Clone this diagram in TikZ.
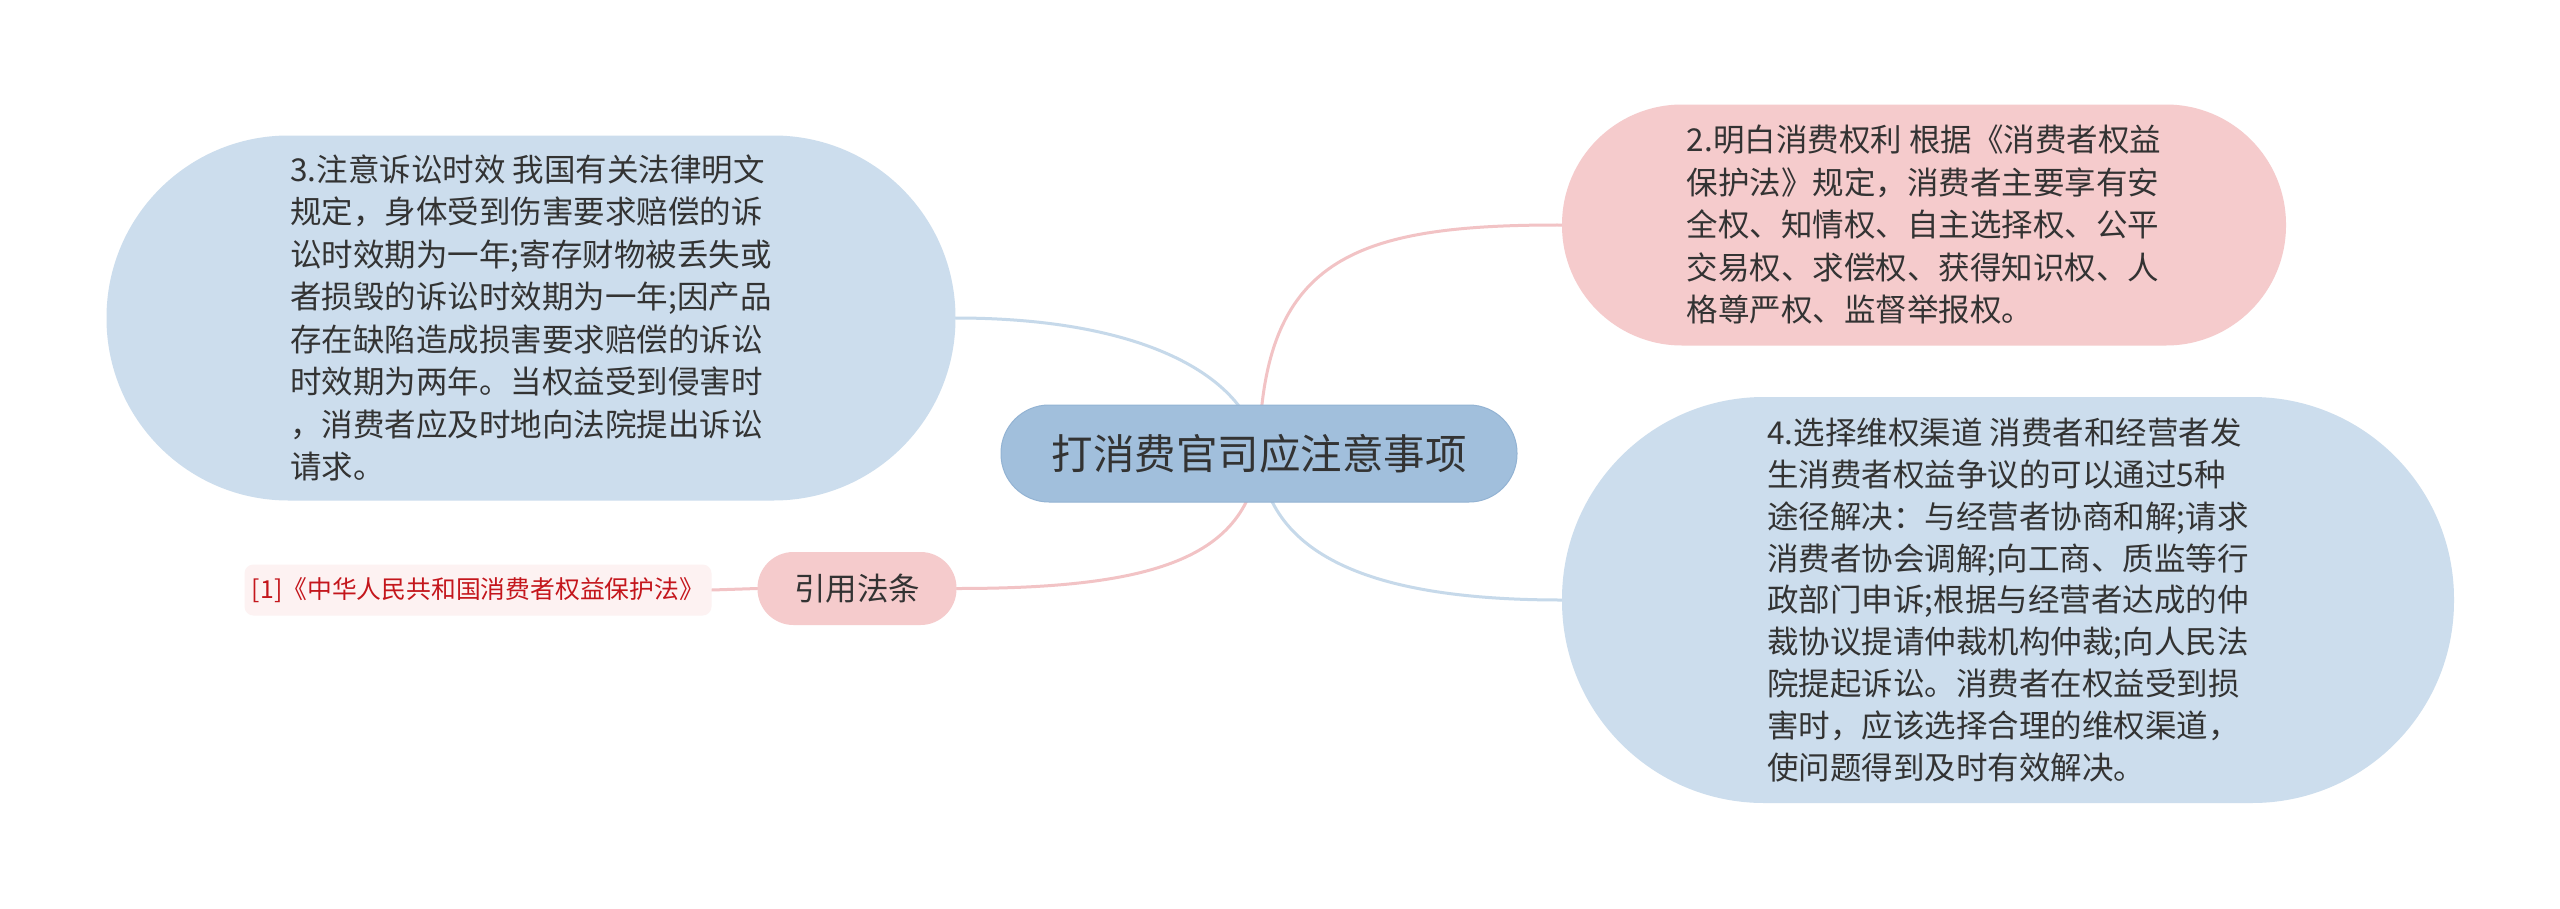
\documentclass[tikz,border=0pt]{standalone}
\usepackage{fontspec}
\setmainfont{Noto Sans CJK SC}
\pgfdeclarelayer{bg}
\pgfdeclarelayer{canvas}
\pgfsetlayers{canvas,bg,main}
\definecolor{txt}{HTML}{333333}
\definecolor{rootblue}{HTML}{A1BFDC}
\definecolor{rootedge}{HTML}{93B3D3}
\definecolor{nodeblue}{HTML}{CCDDED}
\definecolor{nodepink}{HTML}{F5CBCC}
\definecolor{lineblue}{HTML}{C6D9EA}
\definecolor{linepink}{HTML}{F2C3C5}
\definecolor{citefill}{HTML}{FDF2F2}
\definecolor{citered}{HTML}{C4161C}
\tikzset{
  box/.style={inner sep=0pt, align=left, text=txt, font=\fontsize{31.5}{42.5}\selectfont},
  conn/.style={line width=3pt, line cap=round},
}
\begin{document}
\begin{tikzpicture}[x=1pt,y=-1pt]
\useasboundingbox (0,0) rectangle (2560,908);
\begin{pgfonlayer}{canvas}
\fill[white] (0,0) rectangle (2560,908);
\end{pgfonlayer}

\node[fill=rootblue, draw=rootedge, line width=1pt, rounded corners=48pt, minimum width=516pt, minimum height=97pt, inner sep=0pt, text=txt, font=\fontsize{41.5}{50}\selectfont] (root) at (1259,453.5) {打消费官司应注意事项};

\node[box, fill=nodeblue, rounded corners=182pt, minimum width=849pt, minimum height=365pt] (n3) at (531,318) {3.注意诉讼时效 我国有关法律明文\\规定，身体受到伤害要求赔偿的诉\\讼时效期为一年;寄存财物被丢失或\\者损毁的诉讼时效期为一年;因产品\\存在缺陷造成损害要求赔偿的诉讼\\时效期为两年。当权益受到侵害时\\，消费者应及时地向法院提出诉讼\\请求。};

\node[box, fill=nodepink, rounded corners=120pt, minimum width=724pt, minimum height=241pt] (n2) at (1924,225) {2.明白消费权利 根据《消费者权益\\保护法》规定，消费者主要享有安\\全权、知情权、自主选择权、公平\\交易权、求偿权、获得知识权、人\\格尊严权、监督举报权。};

\node[box, fill=nodeblue, rounded corners=202pt, minimum width=892pt, minimum height=406pt, font=\fontsize{31.5}{41.8}\selectfont] (n4) at (2008,600) {4.选择维权渠道 消费者和经营者发\\生消费者权益争议的可以通过5种\\途径解决：与经营者协商和解;请求\\消费者协会调解;向工商、质监等行\\政部门申诉;根据与经营者达成的仲\\裁协议提请仲裁机构仲裁;向人民法\\院提起诉讼。消费者在权益受到损\\害时，应该选择合理的维权渠道，\\使问题得到及时有效解决。};

\node[box, fill=nodepink, rounded corners=36pt, minimum width=199pt, minimum height=73pt] (law) at (857,588.5) {引用法条};

\node[inner sep=0pt, fill=citefill, rounded corners=9pt, minimum width=467pt, minimum height=51pt, text=citered, font=\fontsize{24.8}{30}\selectfont] (cite) at (478,590) {[1]《中华人民共和国消费者权益保护法》};

\begin{pgfonlayer}{bg}
\draw[conn, draw=linepink] (root.center) .. controls (1262,260) and (1350,224.5) .. (n2.west);
\draw[conn, draw=lineblue] (root.center) .. controls (1250,380) and (1150,318) .. (n3.east);
\draw[conn, draw=lineblue] (root.center) .. controls (1268,560) and (1380,600) .. (n4.west);
\draw[conn, draw=linepink] (root.center) .. controls (1250,560) and (1150,588.5) .. (law.east);
\draw[conn, draw=linepink] (law.west) -- (cite.east);
\end{pgfonlayer}
\end{tikzpicture}
\end{document}
